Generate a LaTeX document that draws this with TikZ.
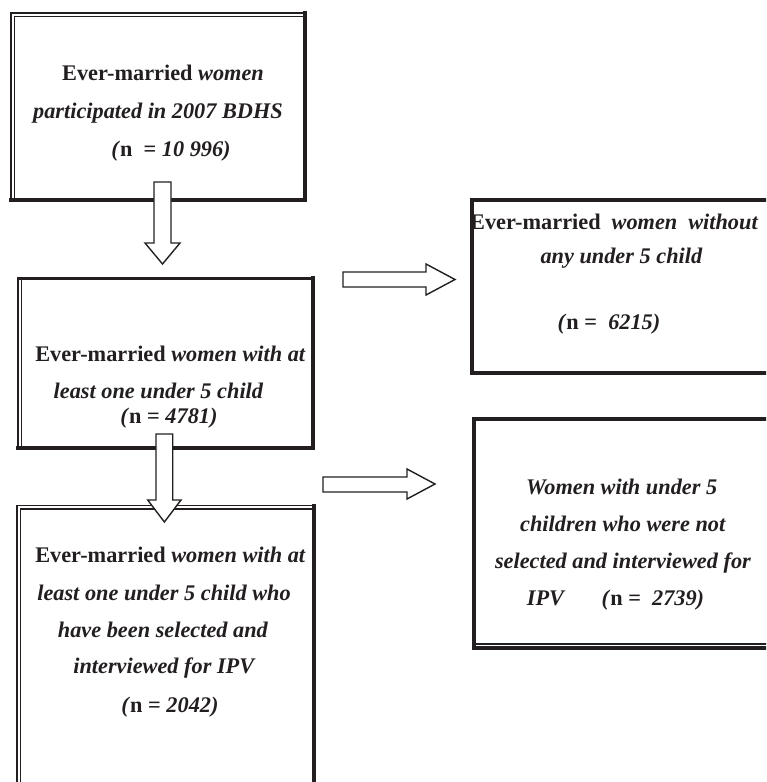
\documentclass[tikz,border=0pt]{standalone}
\usepackage{fontspec}
\setmainfont{Liberation Serif}
\definecolor{ink}{RGB}{35,31,32}
\newcommand\frameit[1]{%
  \draw[thinln] ([shift={(3.3,-2)}]#1.south west) -- ([shift={(3.3,3.3)}]#1.north west) -- ([shift={(-2,3.3)}]#1.north east);
  \draw[thickln] (#1.north east) -- (#1.south east) -- (#1.south west);}
\newcommand\frameleft[1]{%
  \draw[thinln] ([shift={(3.3,-2)}]#1.south west) -- ([shift={(3.3,2)}]#1.north west);
  \draw[draw=ink,line width=3pt] ([shift={(-0.75,0)}]#1.north west) -- (#1.north east);
  \draw[thickln] (#1.north east) -- (#1.south east) -- (#1.south west);}
\begin{document}
\begin{tikzpicture}[x=1pt,y=-1pt,line join=miter,
  thinln/.style={draw=ink,line width=1.5pt},
  thickln/.style={draw=ink,line width=4pt,line cap=rect},
  boxnode/.style={draw=ink,line width=1.5pt,rectangle,inner sep=0pt,outer sep=0pt},
  thickbox/.style={draw=ink,line width=3.8pt,rectangle,inner sep=0pt,outer sep=0pt},
  txt/.style={anchor=base,inner sep=0pt,text=ink,font=\fontsize{22.3}{25}\selectfont\bfseries},
  blockarrow/.style={draw=ink,fill=white,line width=1.4pt,line join=miter}]
\clip (0,0) rectangle (766,782);
\fill[white] (0,0) rectangle (766,782);

% boxes
\node[boxnode,minimum width=294pt,minimum height=187pt] (b1) at (158,106.5) {};
\frameit{b1}
\node[boxnode,minimum width=295.5pt,minimum height=170pt] (b2) at (165.7,363.3) {};
\frameleft{b2}
\node[boxnode,minimum width=296.5pt,minimum height=320pt] (b3) at (165.3,665.5) {};
\frameit{b3}
\node[thickbox,minimum width=330pt,minimum height=173pt] (b4) at (637,286.7) {};
\node[thickbox,minimum width=330pt,minimum height=229.5pt] (b5) at (638.8,533.5) {};
\draw[thinln] ([shift={(-1,-4.5)}]b5.south west) -- ([shift={(0,-4.5)}]b5.south east);

% texts
\node[txt] (t11) at (163,80) {Ever-married \textit{women}};
\node[txt] (t12) at (158,118) {\textit{participated in 2007 BDHS}};
\node[txt] (t13) at (171,156) {\textit{(}n\ \ = \textit{10 996)}};

\node[txt] (t21) at (170.5,361) {Ever-married \textit{women with at}};
\node[txt] (t22) at (158.5,398) {\textit{least one under 5 child}};
\node[txt] (t23) at (169,423) {\textit{(}n = \textit{4781)}};

\node[txt] (t31) at (170.5,562) {Ever-married \textit{women with at}};
\node[txt] (t32) at (164,600) {\textit{least one under 5 child who}};
\node[txt] (t33) at (163,637) {\textit{have been selected and}};
\node[txt] (t34) at (164.5,673) {\textit{interviewed for IPV}};
\node[txt] (t35) at (170,712) {\textit{(}n = \textit{2042)}};

\node[txt,anchor=base west] (t41) at (470,229) {Ever-married\hspace{11pt}\textit{women}\hspace{11pt}\textit{without}};
\node[txt] (t42) at (621.5,263) {\textit{any under 5 child}};
\node[txt] (t43) at (609,329) {\textit{(}n = \ \textit{6215)}};

\node[txt] (t51) at (621.7,494) {\textit{Women with under 5}};
\node[txt] (t52) at (623,531) {\textit{children who were not}};
\node[txt] (t53) at (623,568) {\textit{selected and interviewed for}};
\node[txt] (t54) at (615.5,605) {\textit{IPV}\hspace{36pt}\textit{(}n = \ \textit{2739)}};

% block arrows
\draw[blockarrow] (154,182) -- (171,182) -- (171,243) -- (180,243) -- (162.5,264) -- (145,243) -- (154,243) -- cycle;
\draw[blockarrow] (156,434) -- (172.7,434) -- (172.7,500) -- (181,500) -- (164.4,522) -- (147.7,500) -- (156,500) -- cycle;
\draw[blockarrow] (343,272) -- (426,272) -- (426,264) -- (455,279.5) -- (426,295) -- (426,287) -- (343,287) -- cycle;
\draw[blockarrow] (323,477) -- (407,477) -- (407,469) -- (435,484) -- (407,499) -- (407,492) -- (323,492) -- cycle;
\end{tikzpicture}
\end{document}
